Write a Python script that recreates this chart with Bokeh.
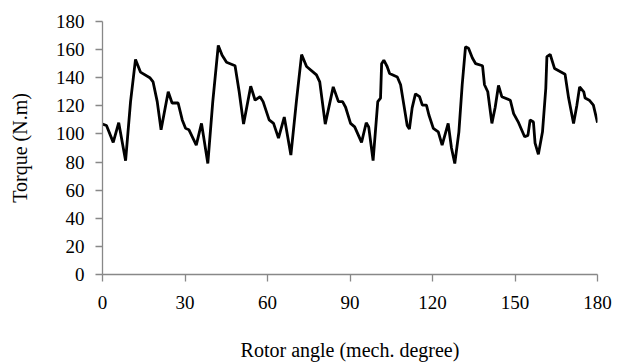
from bokeh.plotting import figure
from bokeh.models import Range1d, FixedTicker
from bokeh.embed import file_html
from bokeh.resources import INLINE

angle = [0.0, 1.45, 3.9, 5.9, 8.4, 10.2, 12.0, 13.8, 17.2, 18.4, 19.9, 21.3, 23.9, 25.3, 27.5, 29.0,
         30.2, 31.4, 34.1, 36.0, 38.3, 40.1, 42.1, 43.5, 45.1, 48.2, 49.7, 51.3, 53.9, 55.5, 57.3,
         58.4, 60.6, 62.2, 64.0, 66.1, 68.5, 70.5, 72.4, 74.2, 77.8, 79.0, 81.0, 83.9, 85.8, 87.3,
         88.4, 90.2, 91.7, 94.2, 95.9, 96.8, 98.4, 100.1, 101.1, 101.5, 102.3, 103.5, 104.4, 107.2,
         108.4, 109.6, 110.8, 111.6, 112.6, 113.8, 115.3, 116.3, 117.8, 118.7, 120.3, 122.1, 123.5,
         125.7, 126.9, 128.1, 129.6, 130.8, 132.0, 133.1, 134.5, 135.7, 138.2, 138.9, 140.1, 141.6,
         142.8, 144.0, 145.2, 148.3, 149.5, 151.3, 153.5, 154.7, 155.5, 156.7, 157.3, 158.5, 160.0,
         161.2, 161.6, 162.8, 164.4, 168.2, 169.5, 171.3, 172.5, 173.5, 175.0, 175.5, 177.0, 178.5,
         180.0]
torque = [107, 106, 94, 108, 81, 123, 153, 144, 140, 137, 123, 103, 130, 122, 122, 110,
          104, 103, 92, 107.5, 79, 123, 163, 156, 151, 148.5, 130, 107, 134, 124, 126.5,
          123, 110, 107.5, 97, 112, 85, 123, 156.5, 148, 142, 137, 107, 133.5, 123, 123,
          119, 107.5, 105, 94, 108, 105, 81, 123, 125.5, 150, 152.5, 148, 143, 140.5,
          135, 120.5, 106, 103.5, 118.5, 128.5, 126.5, 120.5, 120.5, 113.5, 104, 101.5, 92,
          107.5, 90, 79, 101.5, 135, 162, 161, 154, 150, 148.5, 135, 130, 107.5,
          119, 134.5, 126.5, 124, 114.5, 108, 98, 99, 110, 108.5, 93.5, 85.5, 101.5,
          132.5, 155, 156.5, 146.5, 142.5, 125.5, 107.5, 120.5, 133.5, 130, 125.5, 124, 120.5,
          108]
x_ticks = [0, 30, 60, 90, 120, 150, 180]
y_ticks = [0, 20, 40, 60, 80, 100, 120, 140, 160, 180]

p = figure(width=617, height=363, output_backend="svg", toolbar_location=None,
           x_range=Range1d(0, 180), y_range=Range1d(0, 180),
           min_border_left=102, min_border_right=20, min_border_top=21, min_border_bottom=88)
p.line(angle, torque, line_color="black", line_width=2.8)

p.outline_line_color = None
p.grid.visible = False
p.background_fill_color = "white"
p.border_fill_color = "white"

font = "Liberation Serif"
for ax in (p.xaxis[0], p.yaxis[0]):
    ax.axis_line_color = "#888888"
    ax.major_tick_line_color = "#888888"
    ax.axis_line_width = 1.3
    ax.major_tick_line_width = 1.3
    ax.minor_tick_line_color = None
    ax.major_tick_in = 0
    ax.major_tick_out = 7
    ax.major_label_text_font = font
    ax.major_label_text_font_size = "19px"
    ax.major_label_text_color = "black"
    ax.axis_label_text_font = font
    ax.axis_label_text_font_size = "20px"
    ax.axis_label_text_font_style = "normal"
    ax.axis_label_text_color = "black"

p.xaxis.ticker = FixedTicker(ticks=x_ticks)
p.yaxis.ticker = FixedTicker(ticks=y_ticks)
p.xaxis.axis_label = "Rotor angle (mech. degree)"
p.yaxis.axis_label = "Torque (N.m)"
p.xaxis.major_label_standoff = 14
p.xaxis.axis_label_standoff = 27
p.yaxis.major_label_standoff = 11
p.yaxis.axis_label_standoff = 22

open("out.html", "w").write(file_html(p, INLINE))
